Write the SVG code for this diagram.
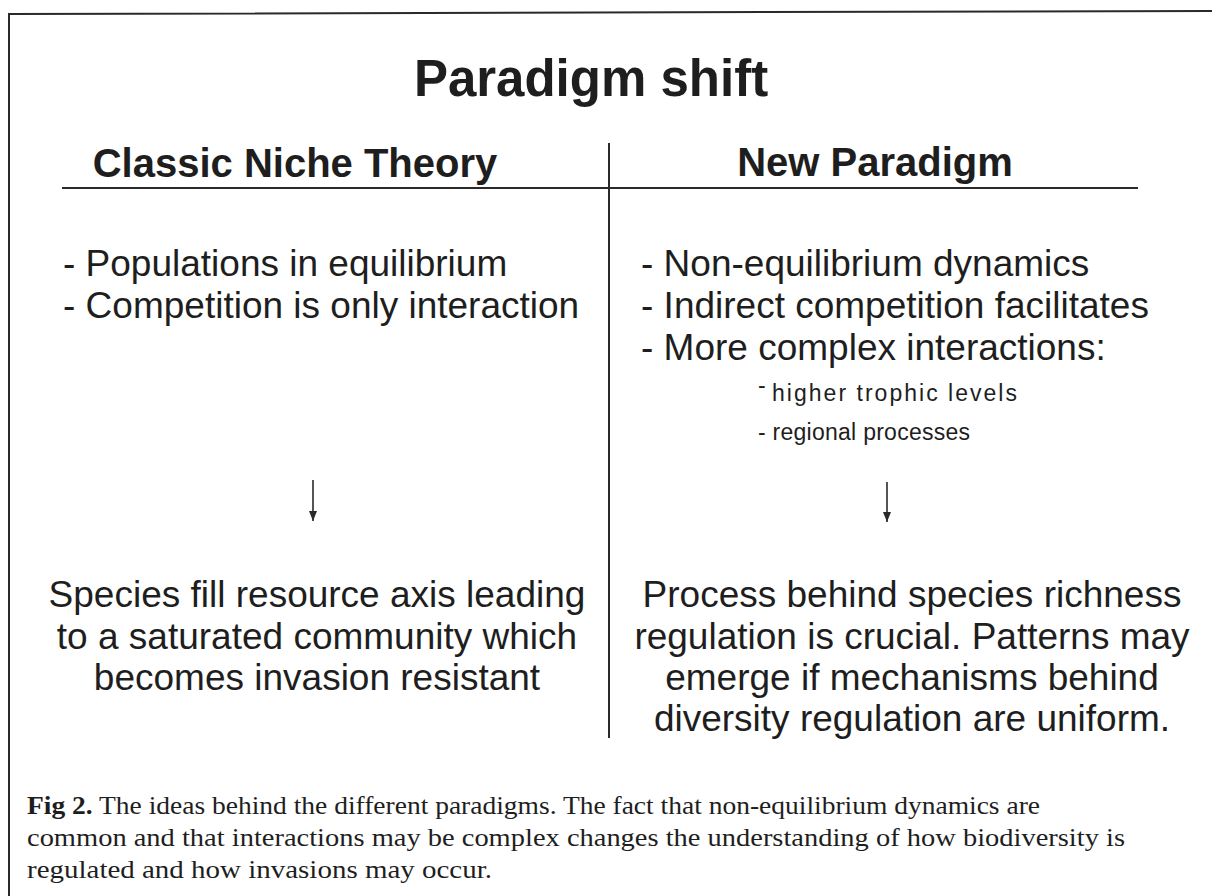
<svg xmlns="http://www.w3.org/2000/svg" width="1212" height="896" viewBox="0 0 1212 896">
<style>
.t{font-family:"Liberation Sans",Arial,sans-serif;fill:#1e1e1e}
.b{font-weight:bold}
.body{font-size:37px}
.sub{font-size:23px}
.cap{font-family:"Liberation Serif","Times New Roman",serif;font-size:26px;fill:#1e1e1e}
.ln{stroke:#2a2a2a;stroke-width:2;fill:none}
.ar{stroke:#2a2a2a;stroke-width:1.6;fill:none}
</style>
<rect width="1212" height="896" fill="#fff"/>
<g id="frame">
<polyline class="ln" points="9,896 9,14 1212,11"/>
<line class="ln" x1="62" y1="188" x2="1138" y2="188"/>
<line class="ln" x1="609" y1="143" x2="609" y2="738"/>
</g>
<g id="title"><text class="t b" x="591" y="96" font-size="51" text-anchor="middle">Paradigm shift</text></g>
<g id="header-classic"><text class="t b" x="295" y="177" font-size="40" text-anchor="middle">Classic Niche Theory</text></g>
<g id="header-new"><text class="t b" x="875" y="176" font-size="40" text-anchor="middle">New Paradigm</text></g>
<g id="classic-points">
<text class="t body" x="63" y="276">- Populations in equilibrium</text>
<text class="t body" x="63" y="318">- Competition is only interaction</text>
</g>
<g id="new-points">
<text class="t body" x="641" y="276">- Non-equilibrium dynamics</text>
<text class="t body" x="641" y="318">- Indirect competition facilitates</text>
<text class="t body" x="641" y="360">- More complex interactions:</text>
<text class="t sub" x="758" y="401"><tspan dy="-8">-</tspan><tspan x="772" dy="8" textLength="245" lengthAdjust="spacing">higher trophic levels</tspan></text>
<text class="t sub" x="758" y="440" textLength="212" lengthAdjust="spacing">- regional processes</text>
</g>
<g id="connectors">
<path d="M313,480 L313,521" class="ar"/>
<path d="M309,511 L317,511 L313,521 Z" fill="#2a2a2a"/>
<path d="M887,482 L887,522" class="ar"/>
<path d="M883,512 L891,512 L887,522 Z" fill="#2a2a2a"/>
</g>
<g id="classic-outcome">
<text class="t body" x="317" y="607" text-anchor="middle">Species fill resource axis leading</text>
<text class="t body" x="317" y="649" text-anchor="middle">to a saturated community which</text>
<text class="t body" x="317" y="690" text-anchor="middle">becomes invasion resistant</text>
</g>
<g id="new-outcome">
<text class="t body" x="912" y="607" text-anchor="middle">Process behind species richness</text>
<text class="t body" x="912" y="649" text-anchor="middle">regulation is crucial. Patterns may</text>
<text class="t body" x="912" y="690" text-anchor="middle">emerge if mechanisms behind</text>
<text class="t body" x="912" y="731" text-anchor="middle">diversity regulation are uniform.</text>
</g>
<g id="caption">
<text class="cap" x="27" y="814" textLength="1013" lengthAdjust="spacingAndGlyphs"><tspan font-weight="bold">Fig 2.</tspan> The ideas behind the different paradigms. The fact that non-equilibrium dynamics are</text>
<text class="cap" x="27" y="846" textLength="1098" lengthAdjust="spacingAndGlyphs">common and that interactions may be complex changes the understanding of how biodiversity is</text>
<text class="cap" x="27" y="878" textLength="465" lengthAdjust="spacingAndGlyphs">regulated and how invasions may occur.</text>
</g>
</svg>
